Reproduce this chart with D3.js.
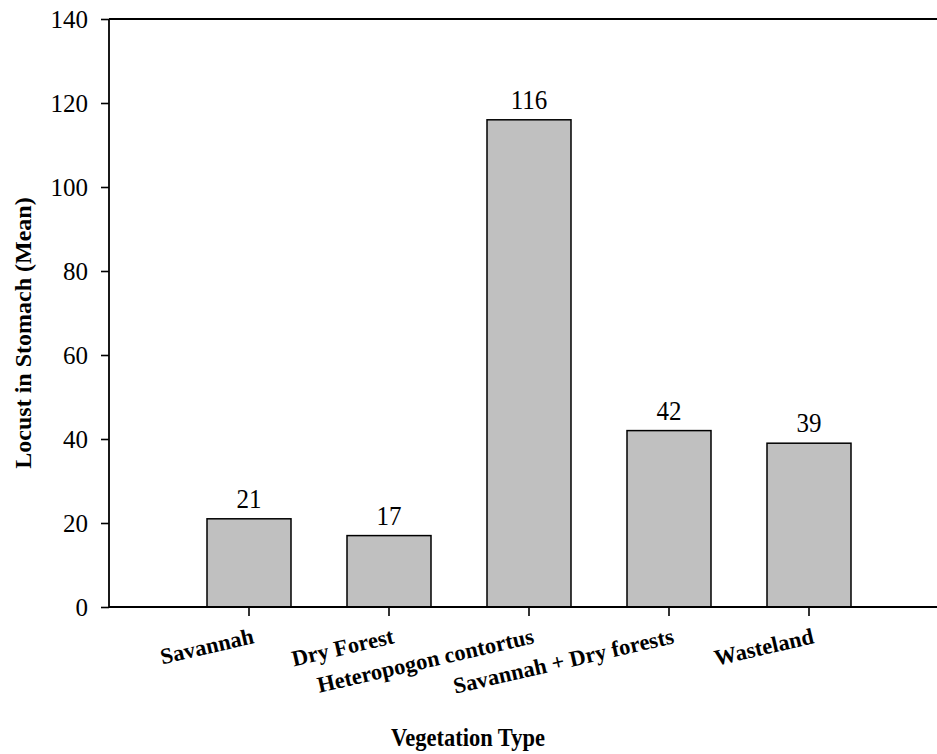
<!DOCTYPE html>
<html>
<head>
<meta charset="utf-8">
<script src="https://cdn.jsdelivr.net/npm/d3@7"></script>
<style>
  html, body { margin: 0; padding: 0; background: #fff; }
  svg { display: block; font-family: "Liberation Serif", "Times New Roman", serif; }
</style>
</head>
<body>
<svg id="chart" width="937" height="754"></svg>
<script>
// Mean number of locusts found in stomachs, by vegetation type
const categories = ["Savannah", "Dry Forest", "Heteropogon contortus", "Savannah + Dry forests", "Wasteland"];
const meanLocusts = [21, 17, 116, 42, 39];
const yTickValues = [0, 20, 40, 60, 80, 100, 120, 140];
const yTitle = "Locust in Stomach (Mean)";
const xTitle = "Vegetation Type";

const svg = d3.select("#chart");
const W = 937;
const plot = { left: 109, top: 19, bottom: 607, right: W };
const serif = "Liberation Serif, Times New Roman, serif";

const x = d3.scaleBand()
  .domain(categories)
  .range([179, 879])
  .paddingInner(0.4)
  .paddingOuter(0.2);

const y = d3.scaleLinear()
  .domain([0, 140])
  .range([plot.bottom, plot.top]);

const rows = categories.map((c, i) => ({ cat: c, value: meanLocusts[i] }));

// bars
svg.append("g").selectAll("rect")
  .data(rows)
  .join("rect")
  .attr("x", d => x(d.cat))
  .attr("y", d => y(d.value))
  .attr("width", x.bandwidth())
  .attr("height", d => y(0) - y(d.value))
  .attr("fill", "#c0c0c0")
  .attr("stroke", "#000")
  .attr("stroke-width", 1.5);

// value labels above bars (slightly tall glyphs)
svg.append("g").selectAll("text")
  .data(rows)
  .join("text")
  .attr("transform", d => `translate(${x(d.cat) + x.bandwidth() / 2},${y(d.value) - 11}) scale(1,1.08)`)
  .attr("text-anchor", "middle")
  .attr("font-size", 25)
  .attr("fill", "#000")
  .text(d => d.value);

// y axis
const yAxis = svg.append("g")
  .attr("transform", `translate(${plot.left},0)`)
  .call(d3.axisLeft(y).tickValues(yTickValues).tickSize(8).tickSizeOuter(0).tickPadding(13));
yAxis.select(".domain").remove();
yAxis.selectAll(".tick line").attr("stroke", "#000").attr("stroke-width", 1.6);
yAxis.selectAll(".tick text")
  .attr("font-size", 25)
  .attr("font-family", serif)
  .attr("fill", "#000");

// x axis with slanted category labels
const xAxis = svg.append("g")
  .attr("transform", `translate(0,${plot.bottom})`)
  .call(d3.axisBottom(x).tickSize(9).tickSizeOuter(0));
xAxis.select(".domain").remove();
xAxis.selectAll(".tick line").attr("stroke", "#000").attr("stroke-width", 1.6);
xAxis.selectAll(".tick text")
  .attr("x", 6)
  .attr("y", 36)
  .attr("dy", 0)
  .attr("text-anchor", "end")
  .attr("transform", "rotate(-13, 6, 36)")
  .attr("font-size", 22.5)
  .attr("font-weight", "bold")
  .attr("font-family", serif)
  .attr("fill", "#000");

// frame lines
const frame = svg.append("g").attr("stroke", "#000").attr("stroke-width", 1.8);
frame.append("line").attr("x1", plot.left).attr("x2", plot.left).attr("y1", plot.top).attr("y2", plot.bottom);
frame.append("line").attr("x1", plot.left).attr("x2", plot.right).attr("y1", plot.top).attr("y2", plot.top);
frame.append("line").attr("x1", plot.left).attr("x2", plot.right).attr("y1", plot.bottom).attr("y2", plot.bottom);

// axis titles
svg.append("text")
  .attr("transform", `translate(31,333) rotate(-90)`)
  .attr("text-anchor", "middle")
  .attr("font-size", 24)
  .attr("font-weight", "bold")
  .text(yTitle);

svg.append("text")
  .attr("transform", "translate(468,746) scale(1,1.1)")
  .attr("text-anchor", "middle")
  .attr("font-size", 22.5)
  .attr("font-weight", "bold")
  .text(xTitle);
</script>
</body>
</html>
